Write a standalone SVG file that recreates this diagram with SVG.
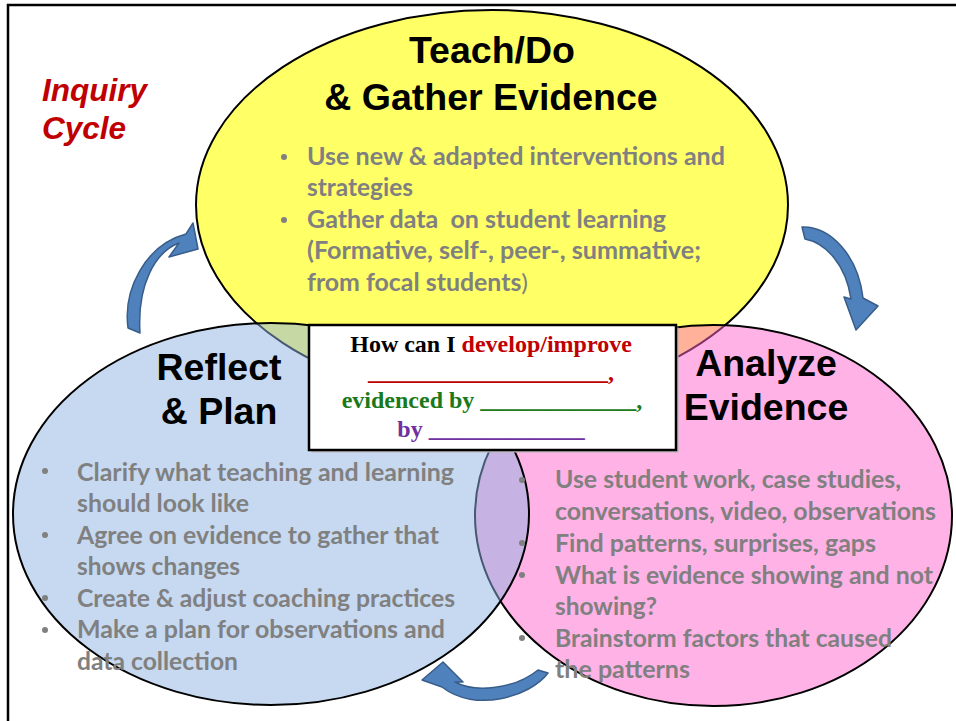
<svg xmlns="http://www.w3.org/2000/svg" width="956" height="721" viewBox="0 0 956 721">
<style>
.ttl{font-family:"Liberation Sans",Arial,sans-serif;font-weight:bold;font-size:37.5px;fill:#000;text-anchor:middle}
.bl{font-family:Lato,"Open Sans",sans-serif;font-weight:bold;font-size:24px;fill:#808080}
.dot{fill:#808080}
.q{font-family:"Liberation Serif","Times New Roman",serif;font-weight:bold;font-size:24px;text-anchor:middle}
.arr{fill:#4f81bd;stroke:#385d8a;stroke-width:1.5;stroke-linejoin:round}
.ell{stroke:#000;stroke-width:2}
.inq{font-family:"Liberation Sans",Arial,sans-serif;font-weight:bold;font-style:italic;font-size:31.5px;fill:#c00000}
</style>
<rect x="0" y="0" width="956" height="721" fill="#fff"/>
<path d="M8,721 V5 H956" fill="none" stroke="#000" stroke-width="2.5"/>

<g id="ellipses">
<ellipse id="e-teach" class="ell" cx="492" cy="205" rx="296" ry="195" fill="#ffff66"/>
<ellipse id="e-analyze" class="ell" cx="713.5" cy="515.5" rx="238.5" ry="190.5" fill="#ff66cc" fill-opacity="0.5"/>
<ellipse id="e-reflect" class="ell" cx="271" cy="514" rx="258" ry="191" fill="#8db3e2" fill-opacity="0.5"/>
</g>

<g id="connectors">
<path class="arr" d="M128,328 C123,290 145,245 186,234 L193,223 L198,249 L169,257 L179,243 C155,252 137,285 140,333 Z"/>
<path class="arr" d="M802,227 C830,226 858,255 863,298 L878,306 L856,330 L844,297 L851,299 C846,265 826,243 805,239 Z"/>
<path class="arr" d="M548,673 C530,697 475,713 442,687 L422,680 L443,662 L463,682 L455,682 C475,693 515,689 538,670 Z"/>
</g>

<g id="title">
<text class="inq" x="42" y="101">Inquiry</text>
<text class="inq" x="42" y="139">Cycle</text>
</g>

<g id="node-teach">
<text class="ttl" x="492" y="63">Teach/Do</text>
<text class="ttl" x="491" y="110">&amp; Gather Evidence</text>
<circle class="dot" cx="284" cy="157" r="3"/>
<circle class="dot" cx="284" cy="220" r="3"/>
<text class="bl" x="307" y="165" textLength="418" lengthAdjust="spacingAndGlyphs">Use new &amp; adapted interventions and</text>
<text class="bl" x="307" y="196" textLength="106" lengthAdjust="spacingAndGlyphs">strategies</text>
<text class="bl" x="307" y="228" textLength="359" lengthAdjust="spacingAndGlyphs">Gather data&#160; on student learning</text>
<text class="bl" x="307" y="259" textLength="394" lengthAdjust="spacingAndGlyphs">(Formative, self-, peer-, summative;</text>
<text class="bl" x="307" y="291" textLength="221" lengthAdjust="spacingAndGlyphs">from focal students<tspan font-weight="normal">)</tspan></text>
</g>

<g id="node-reflect">
<text class="ttl" x="219" y="380">Reflect</text>
<text class="ttl" x="219" y="424">&amp; Plan</text>
<circle class="dot" cx="45" cy="471" r="3"/>
<circle class="dot" cx="45" cy="535" r="3"/>
<circle class="dot" cx="45" cy="598" r="3"/>
<circle class="dot" cx="45" cy="630" r="3"/>
<text class="bl" x="77" y="481" textLength="377" lengthAdjust="spacingAndGlyphs">Clarify what teaching and learning</text>
<text class="bl" x="77" y="512" textLength="172" lengthAdjust="spacingAndGlyphs">should look like</text>
<text class="bl" x="77" y="544" textLength="362" lengthAdjust="spacingAndGlyphs">Agree on evidence to gather that</text>
<text class="bl" x="77" y="575" textLength="163" lengthAdjust="spacingAndGlyphs">shows changes</text>
<text class="bl" x="77" y="607" textLength="378" lengthAdjust="spacingAndGlyphs">Create &amp; adjust coaching practices</text>
<text class="bl" x="77" y="638" textLength="368" lengthAdjust="spacingAndGlyphs">Make a plan for observations and</text>
<text class="bl" x="77" y="670" textLength="161" lengthAdjust="spacingAndGlyphs">data collection</text>
</g>

<g id="node-analyze">
<text class="ttl" x="766" y="376">Analyze</text>
<text class="ttl" x="766" y="420">Evidence</text>
<circle class="dot" cx="522" cy="480" r="3"/>
<circle class="dot" cx="522" cy="543" r="3"/>
<circle class="dot" cx="522" cy="575" r="3"/>
<circle class="dot" cx="522" cy="638" r="3"/>
<text class="bl" x="555" y="488" textLength="346" lengthAdjust="spacingAndGlyphs">Use student work, case studies,</text>
<text class="bl" x="555" y="520" textLength="381" lengthAdjust="spacingAndGlyphs">conversations, video, observations</text>
<text class="bl" x="555" y="552" textLength="321" lengthAdjust="spacingAndGlyphs">Find patterns, surprises, gaps</text>
<text class="bl" x="555" y="584" textLength="378" lengthAdjust="spacingAndGlyphs">What is evidence showing and not</text>
<text class="bl" x="555" y="615" textLength="102" lengthAdjust="spacingAndGlyphs">showing?</text>
<text class="bl" x="555" y="647" textLength="337" lengthAdjust="spacingAndGlyphs">Brainstorm factors that caused</text>
<text class="bl" x="555" y="678" textLength="135" lengthAdjust="spacingAndGlyphs">the patterns</text>
</g>

<g id="node-question">
<rect x="311.5" y="327.5" width="367" height="125" fill="#b8b8b8"/>
<rect x="309" y="325" width="367" height="125" fill="#fff" stroke="#000" stroke-width="2.5"/>
<text class="q" x="491" y="352"><tspan fill="#000">How can I </tspan><tspan fill="#c00000">develop/improve</tspan></text>
<text class="q" x="491" y="380" fill="#c00000">____________________,</text>
<text class="q" x="492" y="408" fill="#1a7a1a">evidenced by _____________,</text>
<text class="q" x="491" y="437" fill="#7030a0">by _____________</text>
</g>
</svg>
